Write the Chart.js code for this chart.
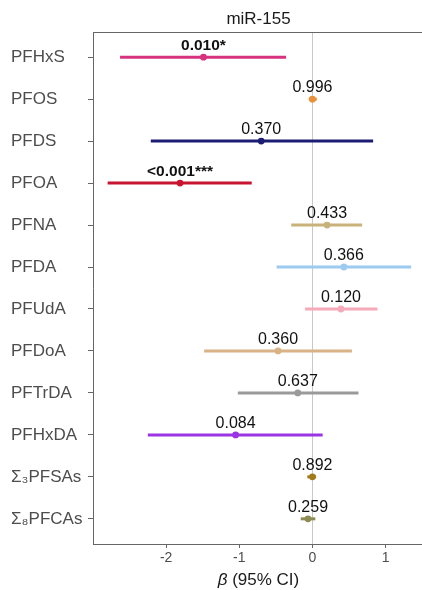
<!DOCTYPE html>
<html>
<head>
<meta charset="utf-8">
<script src="https://cdn.jsdelivr.net/npm/chart.js@4.4.1/dist/chart.umd.min.js"></script>
<style>
html, body { margin: 0; padding: 0; background: #ffffff; overflow: hidden; }
#wrap { position: relative; width: 422px; height: 590px; overflow: hidden; }
#c { position: absolute; left: 0; top: 0; }
</style>
</head>
<body>
<div id="wrap"><canvas id="c" width="500" height="590"></canvas></div>
<script>
// ---- data ----
const categories = ['PFHxS', 'PFOS', 'PFDS', 'PFOA', 'PFNA', 'PFDA', 'PFUdA', 'PFDoA', 'PFTrDA', 'PFHxDA', 'Σ\u2083PFSAs', 'Σ\u2088PFCAs'];
const estimates = [-1.49, 0.00, -0.70, -1.81, 0.20, 0.43, 0.39, -0.47, -0.20, -1.05, 0.00, -0.06];
const lowerCI   = [-2.63, -0.05, -2.21, -2.80, -0.29, -0.49, -0.10, -1.48, -1.02, -2.25, -0.07, -0.16];
const upperCI   = [-0.36, 0.06, 0.83, -0.83, 0.68, 1.35, 0.89, 0.54, 0.63, 0.14, 0.05, 0.04];
const pLabels   = ['0.010*', '0.996', '0.370', '<0.001***', '0.433', '0.366', '0.120', '0.360', '0.637', '0.084', '0.892', '0.259'];
const significant = [true, false, false, true, false, false, false, false, false, false, false, false];
const xTicks = [-2, -1, 0, 1];
const chartTitle = 'miR-155';

// ---- styles ----
const colors = ['#D6327E', '#E8913A', '#1C1C72', '#C8142E', '#C9B27A', '#9CCAF0', '#F6A9B9', '#D9B286', '#9A9A9A', '#9B35E4', '#A27A1A', '#8E8C52'];
const FONT = '"Liberation Sans", Arial, sans-serif';
const frameColor = '#666666';
const VISIBLE_W = 422;

const datasets = categories.map((c, i) => ({
  type: 'scatter',
  label: c,
  data: [{ x: lowerCI[i], y: i + 1 }, { x: upperCI[i], y: i + 1 }],
  showLine: true,
  borderColor: colors[i],
  backgroundColor: colors[i],
  borderWidth: 3,
  pointRadius: 0,
  pointHoverRadius: 0
}));
datasets.push({
  type: 'scatter',
  label: 'estimate',
  data: estimates.map((e, i) => ({ x: e, y: i + 1 })),
  pointBackgroundColor: colors,
  pointBorderColor: colors,
  pointRadius: 3.4,
  pointBorderWidth: 0,
  showLine: false
});

const decorPlugin = {
  id: 'decor',
  afterDatasetsDraw(chart) {
    const { ctx, chartArea, scales } = chart;
    const xs = scales.x, ys = scales.y;
    ctx.save();
    // top frame line
    ctx.strokeStyle = frameColor;
    ctx.lineWidth = 1;
    ctx.beginPath();
    ctx.moveTo(chartArea.left, Math.round(chartArea.top) + 0.5);
    ctx.lineTo(chartArea.right, Math.round(chartArea.top) + 0.5);
    ctx.stroke();
    // p-value labels above each estimate
    ctx.fillStyle = '#111111';
    ctx.textAlign = 'center';
    ctx.textBaseline = 'middle';
    pLabels.forEach((t, i) => {
      ctx.font = (significant[i] ? 'bold 15.5px ' : '16px ') + FONT;
      const x = xs.getPixelForValue(estimates[i]);
      const y = ys.getPixelForValue(i + 1) - 11.5;
      ctx.fillText(t, x, y);
    });
    // title centred over the visible panel
    const cx = (chartArea.left + VISIBLE_W) / 2;
    ctx.fillStyle = '#1a1a1a';
    ctx.font = '17px ' + FONT;
    ctx.fillText(chartTitle, cx + 1, 19);
    // x-axis title with italic beta
    const part1 = 'β', part2 = ' (95% CI)';
    ctx.font = 'italic 17px ' + FONT;
    const w1 = ctx.measureText(part1).width;
    ctx.font = '17px ' + FONT;
    const w2 = ctx.measureText(part2).width;
    const start = cx + 1 - (w1 + w2) / 2;
    ctx.textAlign = 'left';
    ctx.font = 'italic 17px ' + FONT;
    ctx.fillText(part1, start, 580);
    ctx.font = '17px ' + FONT;
    ctx.fillText(part2, start + w1, 580);
    ctx.restore();
  }
};

new Chart(document.getElementById('c'), {
  type: 'scatter',
  data: { datasets },
  options: {
    responsive: false,
    maintainAspectRatio: false,
    animation: false,
    layout: { padding: { left: 11, top: 32, right: 0, bottom: 0 } },
    plugins: {
      legend: { display: false },
      tooltip: { enabled: false },
      title: { display: false }
    },
    scales: {
      x: {
        type: 'linear',
        min: -3,
        max: 2.51,
        afterBuildTicks: (s) => { s.ticks = xTicks.map(v => ({ value: v })); },
        afterFit: (s) => { s.height = 46; },
        grid: {
          color: (ctx) => (ctx.tick && ctx.tick.value === 0) ? '#C8C8C8' : 'rgba(0,0,0,0)',
          lineWidth: 1,
          drawTicks: true,
          tickLength: 4,
          tickColor: frameColor
        },
        border: { display: true, color: frameColor, width: 1 },
        ticks: {
          color: '#4D4D4D',
          font: { family: FONT, size: 14 },
          padding: 2,
          maxRotation: 0,
          callback: (v) => String(v)
        }
      },
      y: {
        type: 'linear',
        reverse: true,
        min: 0.4,
        max: 12.6,
        afterBuildTicks: (s) => { s.ticks = categories.map((c, i) => ({ value: i + 1 })); },
        afterFit: (s) => { s.width = 82; },
        grid: {
          drawOnChartArea: false,
          drawTicks: true,
          tickLength: 5,
          tickColor: frameColor
        },
        border: { display: true, color: frameColor, width: 1 },
        ticks: {
          color: '#4D4D4D',
          font: { family: FONT, size: 17 },
          crossAlign: 'far',
          padding: 2,
          callback: (v) => categories[Math.round(v) - 1]
        }
      }
    }
  },
  plugins: [decorPlugin]
});
</script>
</body>
</html>
